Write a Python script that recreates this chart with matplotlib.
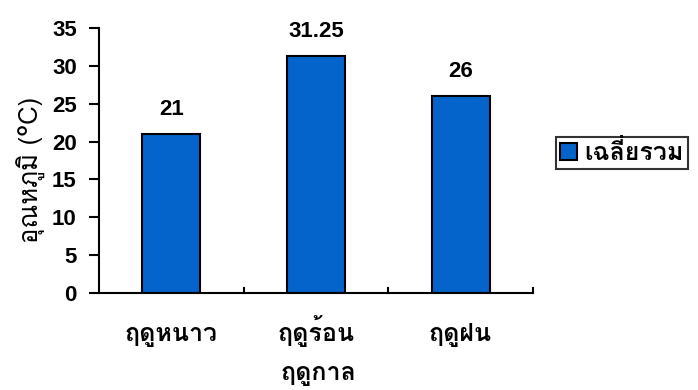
import matplotlib
matplotlib.use("Agg")
import matplotlib.pyplot as plt
from matplotlib.patches import Patch
from matplotlib.transforms import blended_transform_factory

# อุณหภูมิเฉลี่ยแต่ละฤดู
seasons = ["ฤดูหนาว", "ฤดูร้อน", "ฤดูฝน"]
avg_temp = [21, 31.25, 26]
value_labels = ["21", "31.25", "26"]
yticks = [0, 5, 10, 15, 20, 25, 30, 35]

plt.rcParams["font.family"] = ["Liberation Sans", "Loma", "DejaVu Sans"]
thai = ["Loma", "Liberation Sans", "DejaVu Sans"]
bar_color = "#0563CC"

fig = plt.figure(figsize=(6.98, 3.90), dpi=100)
ax = fig.add_axes([99 / 698, 1 - 293 / 390, 434 / 698, 265 / 390])

x = list(range(len(seasons)))
ax.bar(x, avg_temp, width=0.4, color=bar_color, edgecolor="black", linewidth=1.5, zorder=2)
for xi, v, s in zip(x, avg_temp, value_labels):
    ax.text(xi, v + 2.5, s, ha="center", va="baseline", fontsize=16, fontweight="bold")

ax.set_xlim(-0.5, 2.5)
ax.set_ylim(0, 35)
ax.set_yticks(yticks)
ax.set_yticklabels([str(t) for t in yticks], fontsize=16, fontweight="bold")
ax.set_xticks(x)
ax.set_xticklabels([])
ax.tick_params(axis="x", length=0)
ax.tick_params(axis="y", length=7, width=1.5, direction="out", pad=9)

# ชื่อฤดูใต้แกน x วางบนเส้นฐานเดียวกัน
tr = blended_transform_factory(ax.transData, ax.transAxes)
for xi, s in zip(x, seasons):
    ax.text(xi, -0.18, s, transform=tr, ha="center", va="baseline",
            fontsize=18, fontweight="bold", family=thai)

# เส้นขีดแบ่งระหว่างหมวดบนแกน x
for b in [0.5, 1.5, 2.5]:
    ax.plot([b, b], [0, 0.7], color="black", linewidth=1.5, clip_on=False)

for side in ["top", "right"]:
    ax.spines[side].set_visible(False)
for side in ["left", "bottom"]:
    ax.spines[side].set_linewidth(1.5)

ax.text(-0.155, 0.464, "อุณหภูมิ (°C)", transform=ax.transAxes, rotation=90,
        ha="center", va="center", fontsize=18.5, family=thai)
ax.text(1.02, -0.33, "ฤดูกาล", transform=tr, ha="center", va="baseline",
        fontsize=18, fontweight="bold", family=thai)

handle = Patch(facecolor=bar_color, edgecolor="black", linewidth=1.5)
leg = fig.legend([handle], ["เฉลี่ยรวม"], loc="center left",
                 bbox_to_anchor=(556 / 698, 1 - 153 / 390), borderaxespad=0,
                 prop={"size": 18, "weight": "bold", "family": thai}, frameon=True, fancybox=False,
                 handlelength=0.7, handleheight=0.7, handletextpad=0.3, borderpad=0.15)
leg.get_frame().set_edgecolor("black")
leg.get_frame().set_linewidth(1.5)

fig.savefig("out.png", dpi=100)
